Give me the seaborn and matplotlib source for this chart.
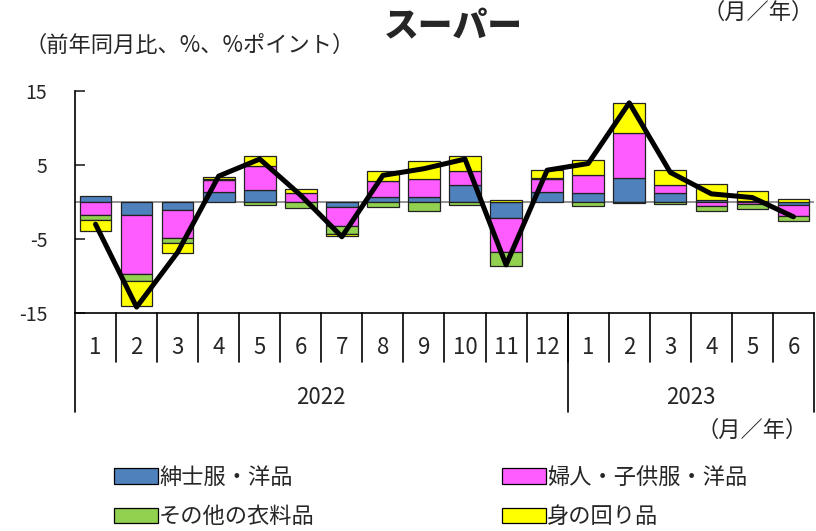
import matplotlib.pyplot as plt
import numpy as np
import seaborn as sns
from matplotlib.patches import Patch

# months (2022/1 - 2023/6)
months = ["1", "2", "3", "4", "5", "6", "7", "8", "9", "10", "11", "12",
          "1", "2", "3", "4", "5", "6"]
years = ["2022", "2023"]
year_counts = [12, 6]

series_names = ["紳士服・洋品", "婦人・子供服・洋品", "その他の衣料品", "身の回り品"]
mens = [0.8, -1.8, -1.1, 1.35, 1.6, 0.05, -0.7, 0.7, 0.7, 2.25, -2.1, 1.35,
        1.25, 3.3, 1.2, 0.3, 0.1, -0.35]
womens = [-1.7, -7.9, -3.7, 1.65, 3.3, 1.1, -2.5, 2.1, 2.4, 2.0, -4.6, 1.8,
          2.35, 6.0, 1.15, -0.5, -0.3, -1.6]
others = [-0.7, -1.0, -0.8, 0.15, -0.45, -0.75, -1.1, -0.7, -1.2, -0.45, -2.0, 0.05,
          -0.6, -0.1, -0.3, -0.7, -0.7, -0.55]
accessories = [-1.5, -3.4, -1.3, 0.2, 1.25, 0.6, -0.35, 1.45, 2.5, 1.9, 0.3, 1.15,
               2.1, 4.1, 2.0, 2.1, 1.45, 0.4]
total = [-3.0, -14.2, -6.8, 3.5, 5.8, 0.9, -4.7, 3.6, 4.5, 5.8, -8.5, 4.3,
         5.2, 13.4, 4.0, 1.1, 0.6, -2.0]

colors = ["#4F81BD", "#FF5CFF", "#92D050", "#FFFF00"]

sns.set_theme(style="white")
plt.rcParams["font.family"] = ["Noto Sans CJK JP", "DejaVu Sans"]

W, H = 816, 531
fig = plt.figure(figsize=(W / 100, H / 100), dpi=100)
ax = fig.add_axes([75 / W, 1 - 313 / H, (814 - 75) / W, (313 - 91) / H])


def fy(py):
    return 1 - py / H


x = np.arange(len(months))
pos_base = np.zeros(len(x))
neg_base = np.zeros(len(x))
for vals, c in zip([mens, womens, others, accessories], colors):
    v = np.array(vals)
    bottom = np.where(v >= 0, pos_base, neg_base)
    ax.bar(x, v, bottom=bottom, width=0.77, color=c, edgecolor="#222222",
           linewidth=0.9, zorder=2)
    pos_base += np.where(v >= 0, v, 0)
    neg_base += np.where(v < 0, v, 0)

ax.axhline(0, color="#808080", lw=1.2, zorder=1)
sns.lineplot(x=x, y=total, color="black", lw=3.6, ax=ax, zorder=3)

ax.set_xlim(-0.5, len(x) - 0.5)
ax.set_ylim(-15, 15)
ax.set_yticks([-15, -5, 5, 15])
ax.set_yticklabels(["-15", "-5", "5", "15"], fontsize=14)
ax.tick_params(axis="y", direction="in", length=7, width=1.2, left=True, pad=20)
ax.set_xticks([])
for s in ["top", "right"]:
    ax.spines[s].set_visible(False)
for s in ["left", "bottom"]:
    ax.spines[s].set_color("black")
    ax.spines[s].set_linewidth(1.2)

# multi-level category axis
trans = ax.get_xaxis_transform()
y_mon_bot = (313 - 362) / (313 - 91)
y_year_bot = (313 - 412) / (313 - 91)
y_mon_txt = (313 - 348) / (313 - 91)
y_year_txt = (313 - 397) / (313 - 91)
for i in range(1, len(x)):
    ax.plot([i - 0.5, i - 0.5], [0, y_mon_bot], transform=trans, color="black",
            lw=1.2, clip_on=False)
start = 0
edges = [-0.5]
for n in year_counts:
    start += n
    edges.append(start - 0.5)
for e in edges:
    ax.plot([e, e], [0, y_year_bot], transform=trans, color="black", lw=1.2,
            clip_on=False)
for i, m in enumerate(months):
    ax.text(i, y_mon_txt, m, transform=trans, ha="center", va="center", fontsize=16)
for j, yr in enumerate(years):
    c = (edges[j] + edges[j + 1]) / 2
    ax.text(c, y_year_txt, yr, transform=trans, ha="center", va="center", fontsize=16)

fig.text(453 / W, fy(27), "スーパー", ha="center", va="center", fontsize=25,
         fontweight="heavy")
fig.text(24 / W, fy(45), "（前年同月比、%、%ポイント）", ha="left", va="center", fontsize=16)
fig.text(814 / W, fy(12), "（月／年）", ha="right", va="center", fontsize=16)
fig.text(808 / W, fy(430), "（月／年）", ha="right", va="center", fontsize=16)

handles = [Patch(facecolor=c, edgecolor="black", linewidth=0.9) for c in colors]
order = [0, 2, 1, 3]
fig.legend([handles[i] for i in order], [series_names[i] for i in order],
           ncol=2, loc="center left", bbox_to_anchor=(98 / W, fy(497)),
           frameon=False, fontsize=16, handlelength=2.0, handleheight=0.7,
           handletextpad=0.05, labelspacing=0.75, columnspacing=8.4,
           borderpad=0.2)

fig.savefig("out.png", dpi=100)
